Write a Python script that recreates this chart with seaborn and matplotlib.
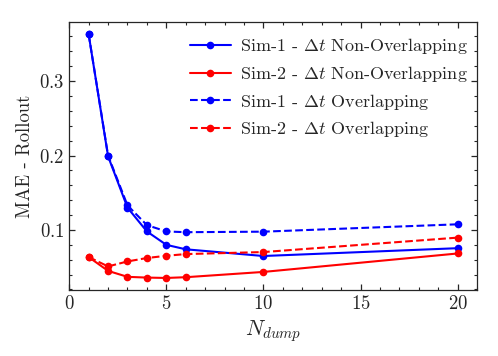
import numpy as np
import pandas as pd
import matplotlib
matplotlib.use("Agg")
import matplotlib.pyplot as plt
import seaborn as sns
from matplotlib.ticker import MultipleLocator

# valores
n_dump = [1, 2, 3, 4, 5, 6, 10, 20]
sim1_non = [0.363, 0.199, 0.130, 0.098, 0.080, 0.074, 0.065, 0.0755]
sim2_non = [0.0636, 0.045, 0.037, 0.036, 0.0355, 0.0365, 0.0436, 0.0684]
sim1_ovl = [0.363, 0.200, 0.133, 0.1065, 0.098, 0.097, 0.0977, 0.1076]
sim2_ovl = [0.0636, 0.051, 0.0577, 0.0623, 0.0653, 0.0676, 0.0703, 0.0897]

labels = [r"Sim-1 - $\Delta t$ Non-Overlapping",
          r"Sim-2 - $\Delta t$ Non-Overlapping",
          r"Sim-1 - $\Delta t$ Overlapping",
          r"Sim-2 - $\Delta t$ Overlapping"]

sns.set_style("ticks")
plt.rcParams["font.family"] = ["cmr10", "DejaVu Serif"]
plt.rcParams["mathtext.fontset"] = "cm"
plt.rcParams["axes.formatter.use_mathtext"] = True
plt.rcParams["xtick.direction"] = "in"
plt.rcParams["ytick.direction"] = "in"
plt.rcParams["xtick.top"] = True
plt.rcParams["ytick.right"] = True

fig, ax = plt.subplots(figsize=(4.98, 3.56), dpi=100)

series = [(sim1_non, "blue", "-"), (sim2_non, "red", "-"),
          (sim1_ovl, "blue", "--"), (sim2_ovl, "red", "--")]
for (vals, col, ls), lab in zip(series, labels):
    df = pd.DataFrame({"x": n_dump, "y": vals})
    sns.lineplot(data=df, x="x", y="y", ax=ax, color=col, linestyle=ls,
                 marker="o", markersize=5.5, markeredgewidth=0,
                 linewidth=1.5, label=lab)

ax.set_xlim(0, 21)
ax.xaxis.set_major_locator(MultipleLocator(5))
ax.xaxis.set_minor_locator(MultipleLocator(1))
ax.yaxis.set_major_locator(MultipleLocator(0.1))
ax.yaxis.set_minor_locator(MultipleLocator(0.02))
ax.tick_params(which="major", length=4, width=0.9, labelsize=13.5)
ax.tick_params(which="minor", length=2.5, width=0.8)
for s in ax.spines.values():
    s.set_linewidth(0.9)

ax.set_xlabel(r"$N_{dump}$", fontsize=15.5)
ax.set_ylabel("MAE - Rollout", fontsize=13.5)
ax.legend(loc="upper right", bbox_to_anchor=(1.0, 0.98), frameon=False,
          fontsize=13, handlelength=2.3, borderaxespad=0.1,
          labelspacing=0.42, handletextpad=0.5)

fig.subplots_adjust(left=0.139, right=0.958, top=0.938, bottom=0.185)
fig.savefig("out.png", dpi=100)
